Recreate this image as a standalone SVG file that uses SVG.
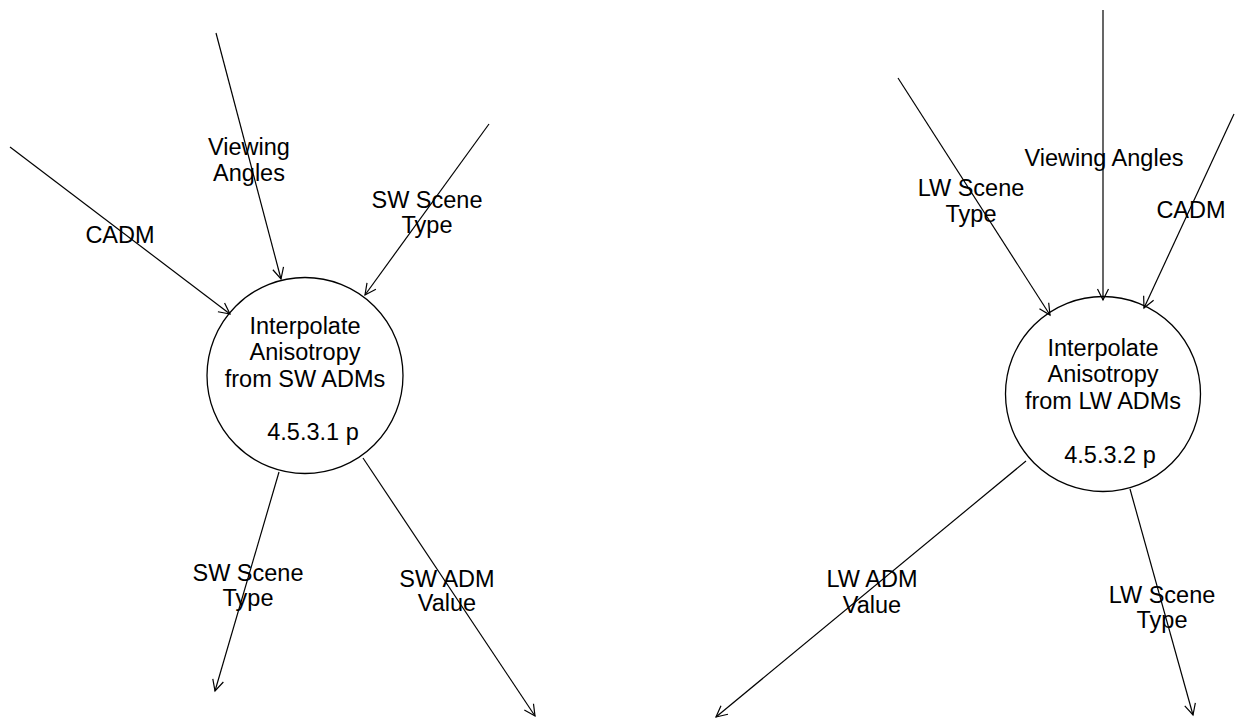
<svg xmlns="http://www.w3.org/2000/svg" width="1236" height="719" viewBox="0 0 1236 719">
<style>
text { font-family: "Liberation Sans", Arial, sans-serif; font-size: 23.5px; fill: #000; text-anchor: middle; }
.node circle { fill: #fff; stroke: #000; stroke-width: 1.3; }
.flow line { stroke: #000; stroke-width: 1.2; fill: none; marker-end: url(#arr); }
</style>
<defs>
<marker id="arr" markerWidth="14" markerHeight="14" refX="12" refY="7" orient="auto" markerUnits="userSpaceOnUse">
<path d="M1,1.5 L12,7 L1,12.5" fill="none" stroke="#000" stroke-width="1.2"/>
</marker>
</defs>
<rect width="1236" height="719" fill="#fff"/>
<g id="node-sw">
<g class="node">
<circle cx="305" cy="375.5" r="98"/>
</g>
<text x="305" y="334">Interpolate</text>
<text x="305" y="360">Anisotropy</text>
<text x="305" y="387">from SW ADMs</text>
<text x="313" y="440">4.5.3.1 p</text>
</g>
<g id="node-lw">
<g class="node">
<circle cx="1103" cy="394" r="97.5"/>
</g>
<text x="1103" y="356">Interpolate</text>
<text x="1103" y="382">Anisotropy</text>
<text x="1103" y="409">from LW ADMs</text>
<text x="1110" y="463">4.5.3.2 p</text>
</g>
<g id="connectors" class="flow">
<line x1="10" y1="147" x2="230" y2="314"/>
<line x1="216" y1="33" x2="281" y2="279"/>
<line x1="489" y1="124" x2="365" y2="295"/>
<line x1="279" y1="472" x2="215" y2="691"/>
<line x1="363" y1="458" x2="535" y2="716"/>
<line x1="898" y1="78" x2="1050" y2="315"/>
<line x1="1103" y1="10" x2="1103" y2="300"/>
<line x1="1234" y1="114" x2="1144" y2="308"/>
<line x1="1026" y1="461" x2="716" y2="717"/>
<line x1="1130" y1="489" x2="1193" y2="715"/>
</g>
<g id="labels">
<text x="120" y="243">CADM</text>
<text x="249" y="155">Viewing</text>
<text x="249" y="181">Angles</text>
<text x="427" y="208">SW Scene</text>
<text x="427" y="233">Type</text>
<text x="248" y="581">SW Scene</text>
<text x="248" y="606">Type</text>
<text x="447" y="587">SW ADM</text>
<text x="447" y="611">Value</text>
<text x="971" y="196">LW Scene</text>
<text x="971" y="222">Type</text>
<text x="1104" y="166">Viewing Angles</text>
<text x="1191" y="218">CADM</text>
<text x="872" y="587">LW ADM</text>
<text x="872" y="613">Value</text>
<text x="1162" y="603">LW Scene</text>
<text x="1162" y="628">Type</text>
</g>
</svg>
